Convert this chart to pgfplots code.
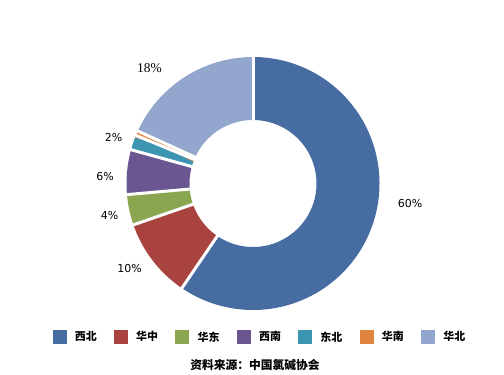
\documentclass[border=0pt]{standalone}
\usepackage{pgfplots}
\usepackage{pgfplotstable}
\pgfplotsset{compat=1.18}
\usepackage{fontspec}
\setmainfont{DejaVu Sans}
\newfontfamily\cjk{Noto Sans CJK SC}
\newfontfamily\serifnum{Liberation Serif}
\definecolor{c0}{RGB}{70,108,162}
\definecolor{c1}{RGB}{168,67,63}
\definecolor{c2}{RGB}{139,166,80}
\definecolor{c3}{RGB}{106,87,146}
\definecolor{c4}{RGB}{60,150,178}
\definecolor{c5}{RGB}{222,132,62}
\definecolor{c6}{RGB}{147,167,206}
% region shares (percent), clockwise from 12 o'clock
\pgfplotstableread{
region share
西北 59.5
华中 10.2
华东 3.9
西南 5.7
东北 1.9
华南 0.6
华北 18.2
}\shares
\begin{document}
\begin{tikzpicture}
\begin{axis}[
  width=504bp, height=372bp, scale only axis,
  xmin=0, xmax=504, ymin=0, ymax=372,
  hide axis, clip=false,
  legend columns=7,
  legend entries={西北,华中,华东,西南,东北,华南,华北},
  legend style={at={(0.507,0.094)}, anchor=center, draw=none, fill=none,
    inner sep=0pt, font=\cjk\bfseries\fontsize{11}{13}\selectfont,
    nodes={inner sep=0pt},
    /tikz/every odd column/.append style={column sep=1.5bp},
    /tikz/every even column/.append style={column sep=10.5bp}},
]
\draw[draw=none] (axis cs:0,0) rectangle (axis cs:504,372);
\def\cum{0}
\pgfplotsforeachungrouped \i in {0,...,6}{%
  \pgfplotstablegetelem{\i}{share}\of\shares
  \pgfmathsetmacro\angA{90-3.6*\cum}%
  \pgfmathsetmacro\cum{\cum+\pgfplotsretval}%
  \pgfmathsetmacro\angB{90-3.6*\cum}%
  \edef\temp{\noexpand\addplot[draw=c\i, line width=63bp, line cap=butt, line join=round, domain=\angB:\angA, samples=120,
    legend image code/.code={\noexpand\draw[c\i, line width=13.5bp, line cap=butt] (0bp,0bp) -- (14bp,0bp);}]
    ({253+95*cos(x)},{188.5+95*sin(x)});}%
  \temp
}
\def\cum{0}
\pgfplotsforeachungrouped \i in {0,...,6}{%
  \pgfmathsetmacro\angA{90-3.6*\cum}%
  \edef\temp{\noexpand\addplot[white, line width=3bp, domain=55:135, samples=2, forget plot]
    ({253+x*cos(\angA)},{188.5+x*sin(\angA)});}%
  \temp
  \pgfplotstablegetelem{\i}{share}\of\shares
  \pgfmathsetmacro\cum{\cum+\pgfplotsretval}%
}
\node[font=\fontsize{11}{13}\selectfont] at (axis cs:410,168) {60\%};
\node[font=\serifnum\fontsize{13.5}{15}\selectfont] at (axis cs:149.5,304) {18\%};
\node[font=\fontsize{11}{13}\selectfont] at (axis cs:113.5,234) {2\%};
\node[font=\fontsize{11}{13}\selectfont] at (axis cs:105,195) {6\%};
\node[font=\fontsize{11}{13}\selectfont] at (axis cs:109.5,156) {4\%};
\node[font=\fontsize{11}{13}\selectfont] at (axis cs:129.5,103) {10\%};
\node[font=\cjk\bfseries\fontsize{11.8}{14}\selectfont] at (axis cs:255,7) {资料来源：中国氯碱协会};
\end{axis}
\end{tikzpicture}
\end{document}
